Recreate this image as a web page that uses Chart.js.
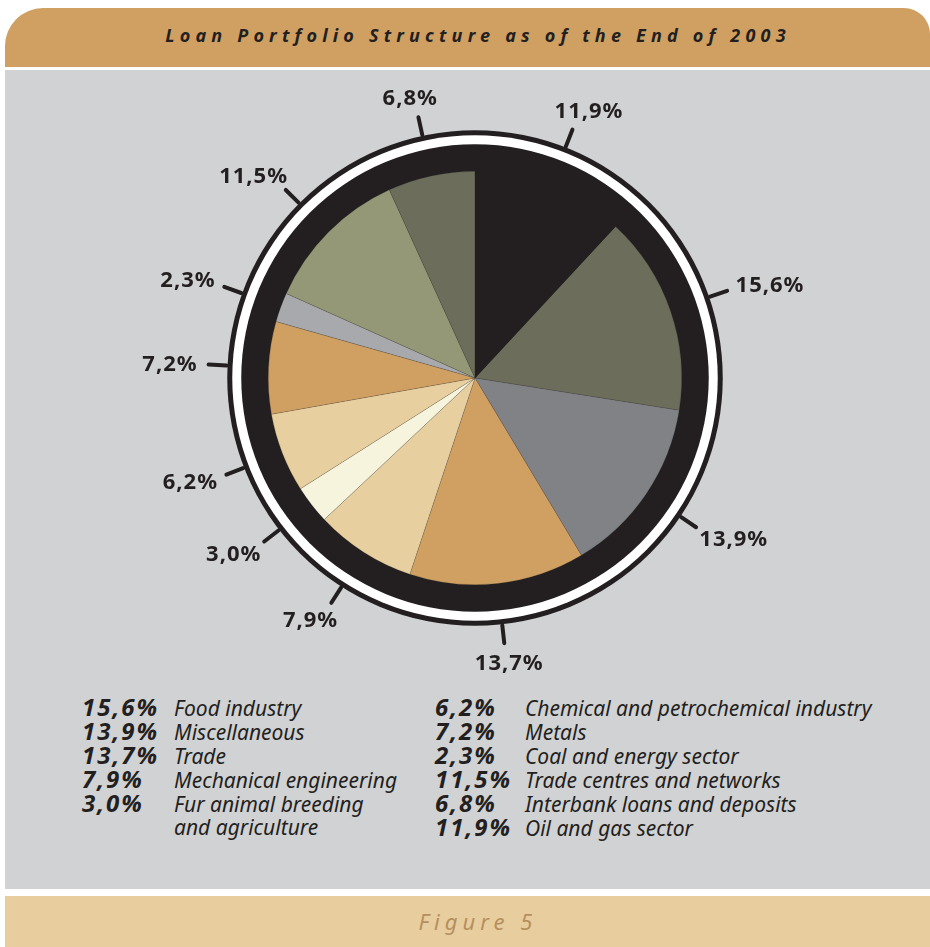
<!DOCTYPE html>
<html>
<head>
<meta charset="utf-8">
<script src="https://cdn.jsdelivr.net/npm/chart.js@4.4.0/dist/chart.umd.min.js"></script>
<style>
  body { margin:0; width:930px; height:947px; background:#fff; position:relative; overflow:hidden; font-family:"Noto Sans", sans-serif; }
  #header { position:absolute; left:5px; top:8px; width:925px; height:59px; background:#CFA062; border-radius:38px 26px 0 0; }
  #header h1 { margin:0; font-style:italic; font-weight:bold; font-size:18px; letter-spacing:5.2px; padding-left:21px; color:#231F20; text-align:center; line-height:55px; }
  #panel { position:absolute; left:5px; top:70px; width:925px; height:819px; background:#D1D2D4; }
  #chart-box { position:absolute; left:0; top:0; width:925px; height:620px; }
  .col { position:absolute; top:625px; }
  .row { display:flex; align-items:baseline; height:24px; line-height:24px; font-size:21px; color:#231F20; font-style:italic; }
  .pct { font-weight:bold; font-size:24px; letter-spacing:2px; }
  #footer { position:absolute; left:5px; top:896px; width:925px; height:51px; background:#E8CE9F; text-align:center; }
  #footer span { font-style:italic; font-size:22px; letter-spacing:5px; padding-left:21px; color:#B58F5E; line-height:51px; }
</style>
</head>
<body>
<div id="header"><h1>Loan Portfolio Structure as of the End of 2003</h1></div>
<div id="panel">
  <div id="chart-box"><canvas id="pieChart"></canvas></div>
  <div class="col" id="col1" style="left:77px"></div>
  <div class="col" id="col2" style="left:430px"></div>
</div>
<div id="footer"><span>Figure 5</span></div>

<script>
// legend order; the pie runs the same order clockwise, with the last slice starting at 12 o'clock
const categories = [
  'Food industry',
  'Miscellaneous',
  'Trade',
  'Mechanical engineering',
  ['Fur animal breeding', 'and agriculture'],
  'Chemical and petrochemical industry',
  'Metals',
  'Coal and energy sector',
  'Trade centres and networks',
  'Interbank loans and deposits',
  'Oil and gas sector'
];
const shares = [15.6, 13.9, 13.7, 7.9, 3.0, 6.2, 7.2, 2.3, 11.5, 6.8, 11.9];
const sliceColors = ['#6D6D5B', '#808285', '#CFA062', '#E8CF9F', '#F7F4DE', '#E8CF9F', '#CFA062', '#A7A9AC', '#959876', '#6D6D5B', '#231F20'];
const legendColumns = [[0, 1, 2, 3, 4], [5, 6, 7, 8, 9, 10]];

const fmt = v => v.toFixed(1).replace('.', ',') + '%';
const total = shares.reduce((a, b) => a + b, 0);
const DARK = '#231F20';

// ----------------- LEGEND -----------------
legendColumns.forEach((idxs, c) => {
  const col = document.getElementById('col' + (c + 1));
  const pctWidth = c === 0 ? 92 : 90;
  idxs.forEach(i => {
    const lines = Array.isArray(categories[i]) ? categories[i] : [categories[i]];
    lines.forEach((line, k) => {
      const row = document.createElement('div');
      row.className = 'row';
      row.innerHTML = `<span class="pct" style="width:${pctWidth}px">${k === 0 ? fmt(shares[i]) : ''}</span><span>${line}</span>`;
      col.appendChild(row);
    });
  });
});

// ----------------- RINGS + LABELS -----------------
const ringsPlugin = {
  id: 'rings',
  beforeDatasetsDraw(chart) {
    const arc = chart.getDatasetMeta(0).data[0];
    const { x, y, outerRadius } = arc;
    const ctx = chart.ctx;
    const disc = (r, color) => {
      ctx.beginPath();
      ctx.arc(x, y, r, 0, Math.PI * 2);
      ctx.fillStyle = color;
      ctx.fill();
    };
    ctx.save();
    disc(outerRadius + 41, DARK);
    disc(outerRadius + 36, '#FFFFFF');
    disc(outerRadius + 27, DARK);
    ctx.restore();
  },
  afterDatasetsDraw(chart) {
    const ctx = chart.ctx;
    const meta = chart.getDatasetMeta(0);
    ctx.save();
    ctx.font = 'bold 22px "Noto Sans"';
    ctx.letterSpacing = '1px';
    ctx.textAlign = 'center';
    ctx.textBaseline = 'middle';
    ctx.fillStyle = DARK;
    ctx.strokeStyle = DARK;
    ctx.lineWidth = 4;
    ctx.lineCap = 'round';
    meta.data.forEach((arc, i) => {
      const a = (arc.startAngle + arc.endAngle) / 2;
      const cos = Math.cos(a), sin = Math.sin(a);
      const r1 = arc.outerRadius + 42, r2 = arc.outerRadius + 60;
      const ex = arc.x + r2 * cos, ey = arc.y + r2 * sin;
      ctx.beginPath();
      ctx.moveTo(arc.x + r1 * cos, arc.y + r1 * sin);
      ctx.lineTo(ex, ey);
      ctx.stroke();

      const text = fmt(shares[i]);
      const w = ctx.measureText(text).width;
      ctx.fillText(text, ex + cos * (w / 2 + 11), ey + sin * 20 + 1);
    });
    ctx.restore();
  }
};

new Chart(document.getElementById('pieChart'), {
  type: 'pie',
  data: {
    labels: categories.map(c => Array.isArray(c) ? c.join(' ') : c),
    datasets: [{
      data: shares,
      backgroundColor: sliceColors,
      borderColor: 'rgba(35,31,32,0.3)',
      borderWidth: 0.5
    }]
  },
  options: {
    responsive: true,
    maintainAspectRatio: false,
    animation: false,
    events: [],
    rotation: shares[shares.length - 1] / total * 360,
    layout: { padding: { left: 15, right: 0, top: 101, bottom: 105 } },
    plugins: {
      legend: { display: false },
      tooltip: { enabled: false }
    }
  },
  plugins: [ringsPlugin]
});
</script>
</body>
</html>
